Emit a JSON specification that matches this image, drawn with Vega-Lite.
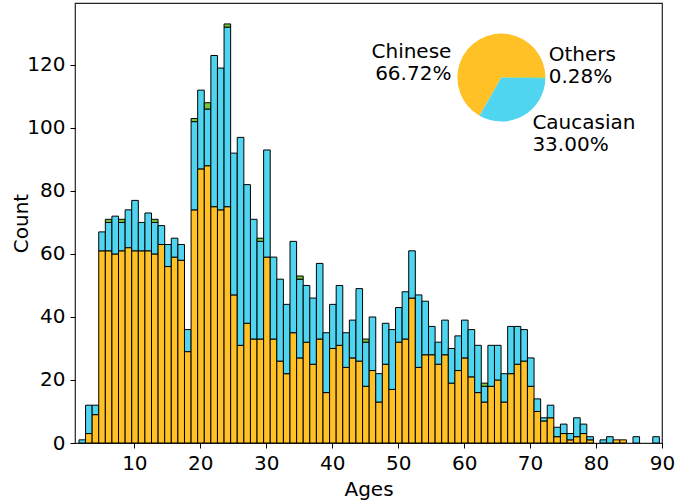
{
  "$schema": "https://vega.github.io/schema/vega-lite/v6.json",
  "width": 587,
  "height": 440,
  "autosize": {"type": "none"},
  "padding": {"left": 75, "top": 3, "right": 37, "bottom": 61},
  "background": "white",
  "config": {
    "font": "DejaVu Sans",
    "view": {"stroke": "#222222", "strokeWidth": 1.2},
    "axis": {
      "domain": false,
      "grid": false,
      "labelFlush": false,
      "labelFont": "DejaVu Sans",
      "labelFontSize": 20,
      "labelColor": "black",
      "tickColor": "black",
      "tickWidth": 1,
      "tickSize": 5,
      "labelPadding": 5,
      "titleFont": "DejaVu Sans",
      "titleFontSize": 20,
      "titleFontWeight": "normal",
      "titleColor": "black"
    }
  },
  "datasets": {
    "hist": [
      {"lo": 1.6, "hi": 2.6, "Chinese": 0, "Caucasian": 1, "Others": 0},
      {"lo": 2.6, "hi": 3.6, "Chinese": 3, "Caucasian": 9, "Others": 0},
      {"lo": 3.6, "hi": 4.6, "Chinese": 9, "Caucasian": 3, "Others": 0},
      {"lo": 4.6, "hi": 5.6, "Chinese": 61, "Caucasian": 6, "Others": 0},
      {"lo": 5.6, "hi": 6.6, "Chinese": 61, "Caucasian": 9, "Others": 1},
      {"lo": 6.6, "hi": 7.6, "Chinese": 60, "Caucasian": 12, "Others": 0},
      {"lo": 7.6, "hi": 8.6, "Chinese": 61, "Caucasian": 9, "Others": 1},
      {"lo": 8.6, "hi": 9.6, "Chinese": 62, "Caucasian": 12, "Others": 0},
      {"lo": 9.6, "hi": 10.6, "Chinese": 61, "Caucasian": 16, "Others": 0},
      {"lo": 10.6, "hi": 11.6, "Chinese": 61, "Caucasian": 9, "Others": 0},
      {"lo": 11.6, "hi": 12.6, "Chinese": 61, "Caucasian": 12, "Others": 0},
      {"lo": 12.6, "hi": 13.6, "Chinese": 60, "Caucasian": 10, "Others": 1},
      {"lo": 13.6, "hi": 14.6, "Chinese": 63, "Caucasian": 6, "Others": 0},
      {"lo": 14.6, "hi": 15.6, "Chinese": 56, "Caucasian": 7, "Others": 0},
      {"lo": 15.6, "hi": 16.6, "Chinese": 59, "Caucasian": 6, "Others": 0},
      {"lo": 16.6, "hi": 17.6, "Chinese": 58, "Caucasian": 5, "Others": 0},
      {"lo": 17.6, "hi": 18.6, "Chinese": 29, "Caucasian": 7, "Others": 0},
      {"lo": 18.6, "hi": 19.6, "Chinese": 74, "Caucasian": 28, "Others": 1},
      {"lo": 19.6, "hi": 20.6, "Chinese": 87, "Caucasian": 25, "Others": 0},
      {"lo": 20.6, "hi": 21.6, "Chinese": 88, "Caucasian": 18, "Others": 2},
      {"lo": 21.6, "hi": 22.6, "Chinese": 75, "Caucasian": 48, "Others": 0},
      {"lo": 22.6, "hi": 23.6, "Chinese": 74, "Caucasian": 45, "Others": 0},
      {"lo": 23.6, "hi": 24.6, "Chinese": 75, "Caucasian": 57, "Others": 1},
      {"lo": 24.6, "hi": 25.6, "Chinese": 47, "Caucasian": 45, "Others": 0},
      {"lo": 25.6, "hi": 26.6, "Chinese": 31, "Caucasian": 66, "Others": 0},
      {"lo": 26.6, "hi": 27.6, "Chinese": 38, "Caucasian": 44, "Others": 0},
      {"lo": 27.6, "hi": 28.6, "Chinese": 33, "Caucasian": 38, "Others": 0},
      {"lo": 28.6, "hi": 29.6, "Chinese": 33, "Caucasian": 31, "Others": 1},
      {"lo": 29.6, "hi": 30.6, "Chinese": 59, "Caucasian": 34, "Others": 0},
      {"lo": 30.6, "hi": 31.6, "Chinese": 33, "Caucasian": 26, "Others": 0},
      {"lo": 31.6, "hi": 32.6, "Chinese": 26, "Caucasian": 26, "Others": 0},
      {"lo": 32.6, "hi": 33.6, "Chinese": 22, "Caucasian": 22, "Others": 0},
      {"lo": 33.6, "hi": 34.6, "Chinese": 35, "Caucasian": 29, "Others": 0},
      {"lo": 34.6, "hi": 35.6, "Chinese": 27, "Caucasian": 25, "Others": 1},
      {"lo": 35.6, "hi": 36.6, "Chinese": 32, "Caucasian": 18, "Others": 0},
      {"lo": 36.6, "hi": 37.6, "Chinese": 25, "Caucasian": 21, "Others": 0},
      {"lo": 37.6, "hi": 38.6, "Chinese": 33, "Caucasian": 24, "Others": 0},
      {"lo": 38.6, "hi": 39.6, "Chinese": 16, "Caucasian": 19, "Others": 0},
      {"lo": 39.6, "hi": 40.6, "Chinese": 30, "Caucasian": 14, "Others": 0},
      {"lo": 40.6, "hi": 41.6, "Chinese": 31, "Caucasian": 19, "Others": 0},
      {"lo": 41.6, "hi": 42.6, "Chinese": 24, "Caucasian": 11, "Others": 0},
      {"lo": 42.6, "hi": 43.6, "Chinese": 27, "Caucasian": 12, "Others": 0},
      {"lo": 43.6, "hi": 44.6, "Chinese": 26, "Caucasian": 23, "Others": 0},
      {"lo": 44.6, "hi": 45.6, "Chinese": 18, "Caucasian": 14, "Others": 1},
      {"lo": 45.6, "hi": 46.6, "Chinese": 23, "Caucasian": 17, "Others": 0},
      {"lo": 46.6, "hi": 47.6, "Chinese": 13, "Caucasian": 9, "Others": 0},
      {"lo": 47.6, "hi": 48.6, "Chinese": 25, "Caucasian": 13, "Others": 0},
      {"lo": 48.6, "hi": 49.6, "Chinese": 17, "Caucasian": 19, "Others": 0},
      {"lo": 49.6, "hi": 50.6, "Chinese": 32, "Caucasian": 11, "Others": 0},
      {"lo": 50.6, "hi": 51.6, "Chinese": 33, "Caucasian": 15, "Others": 0},
      {"lo": 51.6, "hi": 52.6, "Chinese": 46, "Caucasian": 15, "Others": 0},
      {"lo": 52.6, "hi": 53.6, "Chinese": 24, "Caucasian": 23, "Others": 0},
      {"lo": 53.6, "hi": 54.6, "Chinese": 28, "Caucasian": 17, "Others": 0},
      {"lo": 54.6, "hi": 55.6, "Chinese": 28, "Caucasian": 9, "Others": 0},
      {"lo": 55.6, "hi": 56.6, "Chinese": 25, "Caucasian": 7, "Others": 0},
      {"lo": 56.6, "hi": 57.6, "Chinese": 28, "Caucasian": 11, "Others": 0},
      {"lo": 57.6, "hi": 58.6, "Chinese": 19, "Caucasian": 11, "Others": 0},
      {"lo": 58.6, "hi": 59.6, "Chinese": 23, "Caucasian": 11, "Others": 0},
      {"lo": 59.6, "hi": 60.6, "Chinese": 27, "Caucasian": 12, "Others": 0},
      {"lo": 60.6, "hi": 61.6, "Chinese": 21, "Caucasian": 15, "Others": 0},
      {"lo": 61.6, "hi": 62.6, "Chinese": 16, "Caucasian": 15, "Others": 0},
      {"lo": 62.6, "hi": 63.6, "Chinese": 13, "Caucasian": 5, "Others": 1},
      {"lo": 63.6, "hi": 64.6, "Chinese": 18, "Caucasian": 13, "Others": 0},
      {"lo": 64.6, "hi": 65.6, "Chinese": 20, "Caucasian": 11, "Others": 0},
      {"lo": 65.6, "hi": 66.6, "Chinese": 13, "Caucasian": 9, "Others": 0},
      {"lo": 66.6, "hi": 67.6, "Chinese": 22, "Caucasian": 15, "Others": 0},
      {"lo": 67.6, "hi": 68.6, "Chinese": 25, "Caucasian": 12, "Others": 0},
      {"lo": 68.6, "hi": 69.6, "Chinese": 26, "Caucasian": 10, "Others": 0},
      {"lo": 69.6, "hi": 70.6, "Chinese": 18, "Caucasian": 9, "Others": 0},
      {"lo": 70.6, "hi": 71.6, "Chinese": 10, "Caucasian": 4, "Others": 0},
      {"lo": 71.6, "hi": 72.6, "Chinese": 7, "Caucasian": 1, "Others": 0},
      {"lo": 72.6, "hi": 73.6, "Chinese": 8, "Caucasian": 4, "Others": 0},
      {"lo": 73.6, "hi": 74.6, "Chinese": 2, "Caucasian": 3, "Others": 0},
      {"lo": 74.6, "hi": 75.6, "Chinese": 3, "Caucasian": 3, "Others": 0},
      {"lo": 75.6, "hi": 76.6, "Chinese": 1, "Caucasian": 2, "Others": 0},
      {"lo": 76.6, "hi": 77.6, "Chinese": 2, "Caucasian": 6, "Others": 0},
      {"lo": 77.6, "hi": 78.6, "Chinese": 3, "Caucasian": 3, "Others": 0},
      {"lo": 78.6, "hi": 79.6, "Chinese": 1, "Caucasian": 1, "Others": 0},
      {"lo": 80.6, "hi": 81.6, "Chinese": 0, "Caucasian": 1, "Others": 0},
      {"lo": 81.6, "hi": 82.6, "Chinese": 0, "Caucasian": 2, "Others": 0},
      {"lo": 82.6, "hi": 83.6, "Chinese": 1, "Caucasian": 0, "Others": 0},
      {"lo": 83.6, "hi": 84.6, "Chinese": 1, "Caucasian": 0, "Others": 0},
      {"lo": 85.6, "hi": 86.6, "Chinese": 0, "Caucasian": 2, "Others": 0},
      {"lo": 88.6, "hi": 89.6, "Chinese": 0, "Caucasian": 2, "Others": 0}
    ],
    "pie": [
      {"race": "Chinese", "pct": 66.72, "label": "Chinese\n66.72%"},
      {"race": "Caucasian", "pct": 33.00, "label": "Caucasian\n33.00%"},
      {"race": "Others", "pct": 0.28, "label": "Others\n0.28%"}
    ]
  },
  "layer": [
    {
      "data": {"name": "hist"},
      "transform": [
        {"fold": ["Chinese", "Caucasian", "Others"], "as": ["race", "count"]},
        {"filter": "datum.count > 0"},
        {"calculate": "indexof(['Chinese','Caucasian','Others'], datum.race)", "as": "rank"},
        {"stack": "count", "groupby": ["lo"], "sort": [{"field": "rank", "order": "ascending"}], "as": ["c0", "c1"]}
      ],
      "mark": {"type": "bar", "stroke": "black", "strokeWidth": 1},
      "encoding": {
        "x": {"field": "lo", "type": "quantitative", "scale": {"domain": [1, 90], "nice": false, "zero": false},
              "axis": {"values": [10, 20, 30, 40, 50, 60, 70, 80, 90], "title": "Ages", "titlePadding": 6}},
        "x2": {"field": "hi"},
        "y": {"field": "c0", "type": "quantitative", "scale": {"domain": [0, 139.65], "nice": false},
              "axis": {"values": [0, 20, 40, 60, 80, 100, 120], "title": "Count", "titlePadding": -5}},
        "y2": {"field": "c1"},
        "color": {"field": "race", "type": "nominal", "scale": {"domain": ["Chinese", "Caucasian", "Others"], "range": ["#ffc125", "#4fd5f0", "#76c442"]}, "legend": null}
      }
    },
    {
      "data": {"name": "pie"},
      "transform": [
        {"calculate": "indexof(['Chinese','Caucasian','Others'], datum.race)", "as": "rank"}
      ],
      "mark": {"type": "arc", "radius": 44},
      "encoding": {
        "x": {"datum": 65.65, "type": "quantitative"},
        "y": {"datum": 116, "type": "quantitative"},
        "theta": {"field": "pct", "type": "quantitative", "stack": true, "scale": {"range": [1.5708, 7.854]}},
        "color": {"field": "race", "type": "nominal", "legend": null},
        "order": {"field": "rank", "type": "quantitative", "sort": "descending"}
      }
    },
    {
      "data": {"name": "pie"},
      "transform": [{"filter": "datum.race == 'Chinese'"}],
      "mark": {"type": "text", "align": "right", "baseline": "alphabetic", "lineBreak": "\n", "lineHeight": 22, "fontSize": 20, "font": "DejaVu Sans", "color": "black"},
      "encoding": {
        "x": {"datum": 58.07, "type": "quantitative"},
        "y": {"datum": 122.2, "type": "quantitative"},
        "text": {"field": "label"}
      }
    },
    {
      "data": {"name": "pie"},
      "transform": [{"filter": "datum.race == 'Others'"}],
      "mark": {"type": "text", "align": "left", "baseline": "alphabetic", "lineBreak": "\n", "lineHeight": 22, "fontSize": 20, "font": "DejaVu Sans", "color": "black"},
      "encoding": {
        "x": {"datum": 72.82, "type": "quantitative"},
        "y": {"datum": 121.2, "type": "quantitative"},
        "text": {"field": "label"}
      }
    },
    {
      "data": {"name": "pie"},
      "transform": [{"filter": "datum.race == 'Caucasian'"}],
      "mark": {"type": "text", "align": "left", "baseline": "alphabetic", "lineBreak": "\n", "lineHeight": 22, "fontSize": 20, "font": "DejaVu Sans", "color": "black"},
      "encoding": {
        "x": {"datum": 70.35, "type": "quantitative"},
        "y": {"datum": 99.6, "type": "quantitative"},
        "text": {"field": "label"}
      }
    }
  ]
}
